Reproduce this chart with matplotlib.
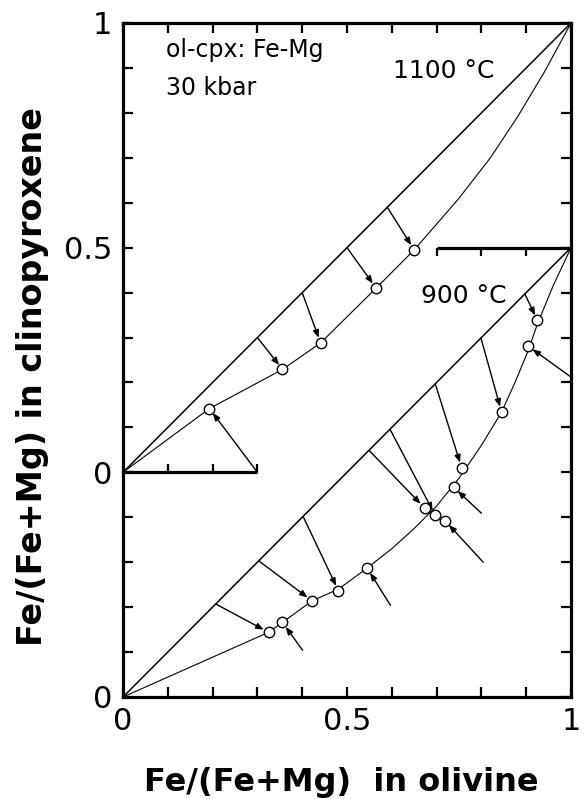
import numpy as np
import matplotlib
matplotlib.use("Agg")
import matplotlib.pyplot as plt

# upper diagram (1100 C), values in its own 0..1 frame
up_ol = [0.193, 0.356, 0.441, 0.565, 0.650]
up_cpx = [0.142, 0.229, 0.288, 0.410, 0.495]
up_from_x = [0.30, 0.30, 0.40, 0.50, 0.59]
up_from_y = [0.00, 0.30, 0.40, 0.50, 0.59]
up_curve_x = [0, 0.193, 0.356, 0.441, 0.565, 0.650, 0.75, 0.82, 0.88, 0.94, 1.0]
up_curve_y = [0, 0.142, 0.229, 0.288, 0.410, 0.495, 0.61, 0.70, 0.79, 0.89, 1.0]

# lower diagram (900 C)
lo_ol = [0.325, 0.356, 0.422, 0.481, 0.545, 0.673, 0.697, 0.719, 0.738, 0.756, 0.845, 0.904, 0.925]
lo_cpx = [0.144, 0.166, 0.214, 0.236, 0.287, 0.421, 0.404, 0.392, 0.467, 0.510, 0.634, 0.781, 0.838]
lo_from_x = [0.207, 0.401, 0.303, 0.402, 0.597, 0.549, 0.596, 0.804, 0.800, 0.697, 0.799, 1.000, 0.897]
lo_from_y = [0.207, 0.104, 0.303, 0.402, 0.204, 0.549, 0.596, 0.300, 0.409, 0.697, 0.799, 0.712, 0.897]
lo_curve_x = [0, 0.325, 0.356, 0.422, 0.481, 0.545, 0.60, 0.65, 0.70, 0.75, 0.80, 0.845, 0.875, 0.904, 0.925, 0.96, 1.0]
lo_curve_y = [0, 0.144, 0.166, 0.214, 0.240, 0.287, 0.330, 0.375, 0.425, 0.487, 0.56, 0.634, 0.70, 0.770, 0.830, 0.915, 1.0]

UP = 0.5  # upper diagram sits 0.5 higher on the shared axis

fig = plt.figure(figsize=(5.87, 7.99), dpi=100)
ax = fig.add_axes([123/587, 1-697/799, (571-123)/587, (697-23)/799])
ax.set_xlim(0, 1)
ax.set_ylim(0, 1.5)

for s in ax.spines.values():
    s.set_linewidth(2.3)

ax.set_xticks([0, 0.5, 1])
ax.set_xticklabels(['0', '0.5', '1'])
ax.set_xticks(np.arange(0.1, 1.0, 0.1), minor=True)
ax.set_yticks([0, 0.5, 1.0, 1.5])
ax.set_yticklabels(['0', '0', '0.5', '1'])
ax.set_yticks(np.arange(0.1, 1.5, 0.1), minor=True)
ax.tick_params(which='both', direction='in', top=True, right=True,
               width=1.6, length=7, labelsize=22)
ax.tick_params(axis='y', pad=8)
ax.tick_params(axis='x', pad=7)

# 1:1 lines
ax.plot([0, 1], [UP, 1 + UP], color='k', lw=1.1)
ax.plot([0, 1], [0, 1], color='k', lw=1.1)

# distribution curves
ax.plot(up_curve_x, np.array(up_curve_y) + UP, color='k', lw=0.8)
ax.plot(lo_curve_x, lo_curve_y, color='k', lw=0.8)

# short inner axes
ax.plot([0, 0.3], [UP, UP], color='k', lw=2.3, solid_capstyle='butt')
ax.vlines([0.1, 0.2, 0.3], UP, UP + 0.018, color='k', lw=1.6)
ax.plot([0.7, 1.0], [1.0, 1.0], color='k', lw=2.3, solid_capstyle='butt')
ax.vlines([0.7, 0.8, 0.9], 1.0 - 0.018, 1.0, color='k', lw=1.6)

aprops = dict(arrowstyle='-|>,head_length=0.5,head_width=0.2', lw=1.0,
              color='k', shrinkA=0, shrinkB=4, mutation_scale=9)
for x0, y0, x1, y1 in zip(up_from_x, up_from_y, up_ol, up_cpx):
    ax.annotate('', xy=(x1, y1 + UP), xytext=(x0, y0 + UP), arrowprops=aprops)
for x0, y0, x1, y1 in zip(lo_from_x, lo_from_y, lo_ol, lo_cpx):
    ax.annotate('', xy=(x1, y1), xytext=(x0, y0), arrowprops=aprops)

ax.plot(up_ol, np.array(up_cpx) + UP, 'o', ms=7.5, mfc='white', mec='k', mew=1.0, zorder=5)
ax.plot(lo_ol, lo_cpx, 'o', ms=7.5, mfc='white', mec='k', mew=1.0, zorder=5)

# labels
ax.text(0.095, 1.44, 'ol-cpx: Fe-Mg', fontsize=17, va='center', ha='left')
ax.text(0.095, 1.355, '30 kbar', fontsize=17, va='center', ha='left')
ax.text(0.715, 1.393, '1100 °C', fontsize=18, va='center', ha='center')
ax.text(0.76, 0.893, '900 °C', fontsize=18, va='center', ha='center')

fig.text(33/587, 1-377/799, 'Fe/(Fe+Mg) in clinopyroxene', rotation=90,
         fontsize=24, fontweight='bold', ha='center', va='center')
fig.text(341/587, 1-783/799, 'Fe/(Fe+Mg)  in olivine',
         fontsize=23, fontweight='bold', ha='center', va='center')

fig.savefig('out.png', dpi=100)
